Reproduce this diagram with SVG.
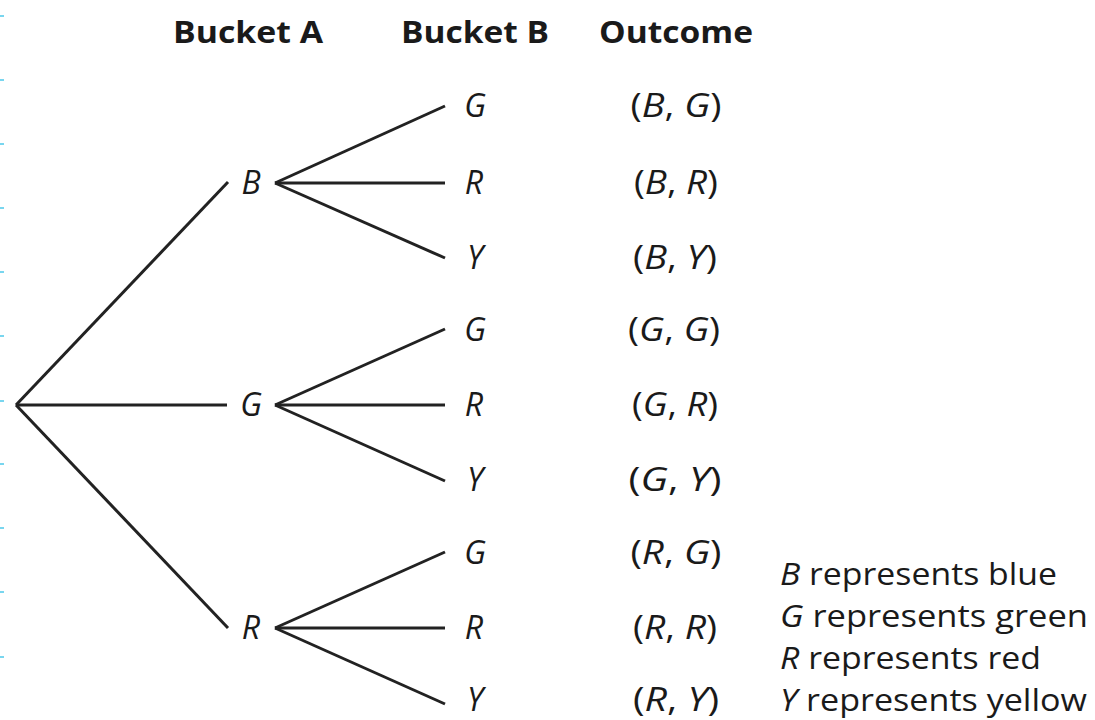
<svg xmlns="http://www.w3.org/2000/svg" width="1095" height="720" viewBox="0 0 1095 720">
<style>
.hdr{font-family:"Open Sans","Noto Sans","Liberation Sans",sans-serif;font-weight:700;font-size:30px;fill:#1a1a1a}
.lbl{font-family:"Open Sans","Noto Sans","Liberation Sans",sans-serif;font-style:italic;font-size:32px;fill:#1a1a1a;text-anchor:middle}
.out{font-family:"Open Sans","Noto Sans","Liberation Sans",sans-serif;font-size:32px;fill:#1a1a1a;text-anchor:middle}
.leg{font-family:"Open Sans","Noto Sans","Liberation Sans",sans-serif;font-size:31px;fill:#1a1a1a}
.it{font-style:italic}
.edge{stroke:#222;stroke-width:3;fill:none;stroke-linecap:butt}
.tick{fill:#79d6ef}
</style>
<rect width="1095" height="720" fill="#fff"/>
<g id="ticks">
<rect class="tick" x="0" y="15" width="4" height="2"/>
<rect class="tick" x="0" y="79" width="4" height="2"/>
<rect class="tick" x="0" y="143" width="4" height="2"/>
<rect class="tick" x="0" y="207" width="4" height="2"/>
<rect class="tick" x="0" y="271" width="4" height="2"/>
<rect class="tick" x="0" y="335" width="4" height="2"/>
<rect class="tick" x="0" y="400" width="4" height="2"/>
<rect class="tick" x="0" y="463" width="4" height="2"/>
<rect class="tick" x="0" y="527" width="4" height="2"/>
<rect class="tick" x="0" y="591" width="4" height="2"/>
<rect class="tick" x="0" y="656" width="4" height="2"/>
</g>
<g id="headers">
<text class="hdr" x="173" y="43" textLength="150" lengthAdjust="spacingAndGlyphs">Bucket A</text>
<text class="hdr" x="401" y="43" textLength="148" lengthAdjust="spacingAndGlyphs">Bucket B</text>
<text class="hdr" x="599" y="43" textLength="154" lengthAdjust="spacingAndGlyphs">Outcome</text>
</g>
<g id="connectors">
<line class="edge" x1="16" y1="405" x2="228" y2="182"/>
<line class="edge" x1="16" y1="405" x2="227" y2="405"/>
<line class="edge" x1="16" y1="405" x2="228" y2="628"/>
<line class="edge" x1="275" y1="183" x2="445" y2="106"/>
<line class="edge" x1="275" y1="183" x2="445" y2="183"/>
<line class="edge" x1="275" y1="183" x2="445" y2="258"/>
<line class="edge" x1="275" y1="405" x2="445" y2="329"/>
<line class="edge" x1="275" y1="405" x2="445" y2="405"/>
<line class="edge" x1="275" y1="405" x2="445" y2="481"/>
<line class="edge" x1="275" y1="628" x2="445" y2="552"/>
<line class="edge" x1="275" y1="628" x2="445" y2="628"/>
<line class="edge" x1="275" y1="628" x2="445" y2="704"/>
</g>
<g id="node-A-B"><text class="lbl" x="251" y="194">B</text></g>
<g id="node-A-G"><text class="lbl" x="251" y="416">G</text></g>
<g id="node-A-R"><text class="lbl" x="251" y="639">R</text></g>
<g id="node-BG"><text class="lbl" x="475" y="117">G</text><text class="out" x="676" y="117" textLength="91" lengthAdjust="spacingAndGlyphs">(<tspan class="it">B</tspan>, <tspan class="it">G</tspan>)</text></g>
<g id="node-BR"><text class="lbl" x="474" y="194">R</text><text class="out" x="676" y="194" textLength="84" lengthAdjust="spacingAndGlyphs">(<tspan class="it">B</tspan>, <tspan class="it">R</tspan>)</text></g>
<g id="node-BY"><text class="lbl" x="475" y="269">Y</text><text class="out" x="675" y="269" textLength="84" lengthAdjust="spacingAndGlyphs">(<tspan class="it">B</tspan>, <tspan class="it">Y</tspan>)</text></g>
<g id="node-GG"><text class="lbl" x="475" y="341">G</text><text class="out" x="674" y="341" textLength="92" lengthAdjust="spacingAndGlyphs">(<tspan class="it">G</tspan>, <tspan class="it">G</tspan>)</text></g>
<g id="node-GR"><text class="lbl" x="474" y="416">R</text><text class="out" x="675" y="416" textLength="86" lengthAdjust="spacingAndGlyphs">(<tspan class="it">G</tspan>, <tspan class="it">R</tspan>)</text></g>
<g id="node-GY"><text class="lbl" x="475" y="491">Y</text><text class="out" x="675" y="491" textLength="93" lengthAdjust="spacingAndGlyphs">(<tspan class="it">G</tspan>, <tspan class="it">Y</tspan>)</text></g>
<g id="node-RG"><text class="lbl" x="475" y="564">G</text><text class="out" x="676" y="564" textLength="91" lengthAdjust="spacingAndGlyphs">(<tspan class="it">R</tspan>, <tspan class="it">G</tspan>)</text></g>
<g id="node-RR"><text class="lbl" x="474" y="639">R</text><text class="out" x="675" y="639" textLength="84" lengthAdjust="spacingAndGlyphs">(<tspan class="it">R</tspan>, <tspan class="it">R</tspan>)</text></g>
<g id="node-RY"><text class="lbl" x="475" y="711">Y</text><text class="out" x="676" y="711" textLength="86" lengthAdjust="spacingAndGlyphs">(<tspan class="it">R</tspan>, <tspan class="it">Y</tspan>)</text></g>
<g id="legend">
<text class="leg" x="780" y="585" textLength="277" lengthAdjust="spacingAndGlyphs"><tspan class="it">B</tspan> represents blue</text>
<text class="leg" x="780" y="627" textLength="308" lengthAdjust="spacingAndGlyphs"><tspan class="it">G</tspan> represents green</text>
<text class="leg" x="780" y="669" textLength="261" lengthAdjust="spacingAndGlyphs"><tspan class="it">R</tspan> represents red</text>
<text class="leg" x="780" y="711" textLength="307" lengthAdjust="spacingAndGlyphs"><tspan class="it">Y</tspan> represents yellow</text>
</g>
</svg>
